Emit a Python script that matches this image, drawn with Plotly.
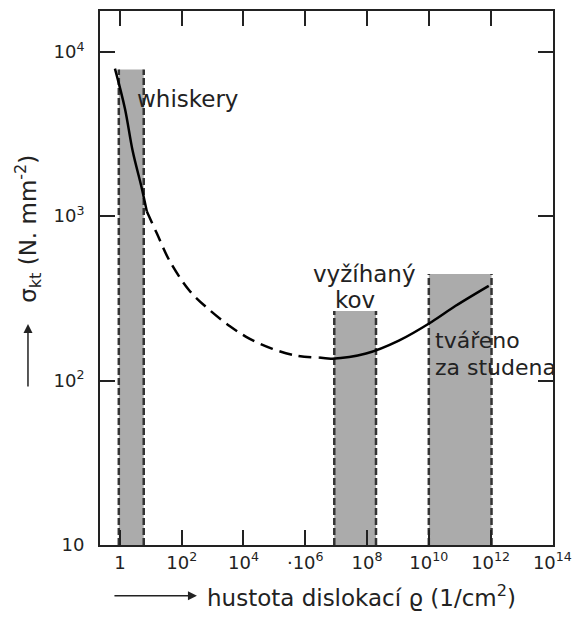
import plotly.graph_objects as go

# Curve: strength vs dislocation density
rho_solid1 = [0.69, 1.45, 2.6, 5.1, 7.4]
sig_solid1 = [7900, 4520, 2480, 1480, 1070]
rho_dash = [7.4, 15.5, 41, 182, 794, 3550, 15500, 87000, 5.1e5, 2.8e6]
sig_dash = [1070, 789, 533, 351, 269, 215, 180, 156, 142, 138]
rho_solid2 = [2.8e6, 7.4e6, 9.3e7, 1.07e9, 1.26e10, 7.4e10, 8.7e11]
sig_solid2 = [138, 136, 146, 175, 228, 285, 377]

# Shaded regions: [rho_low, rho_high, sigma_top]
regions = {
    "whiskery": [0.92, 5.9, 7800],
    "vyžíhaný kov": [8.7e6, 1.95e8, 265],
    "tvářeno za studena": [1.0e10, 1.07e12, 445],
}
sigma_bottom = 10

xtick_vals = [1, 1e2, 1e4, 1e6, 1e8, 1e10, 1e12, 1e14]
xtick_text = ["1", "10<sup>2</sup>", "10<sup>4</sup>", "·10<sup>6</sup>", "10<sup>8</sup>",
              "10<sup>10</sup>", "10<sup>12</sup>", "10<sup>14</sup>"]
ytick_vals = [10, 100, 1000, 10000]
ytick_text = ["10", "10<sup>2</sup>", "10<sup>3</sup>", "10<sup>4</sup>"]

FONT = "DejaVu Sans, sans-serif"
INK = "#222222"
fig = go.Figure()

shapes = []
for name, (x0, x1, top) in regions.items():
    shapes.append(dict(type="rect", xref="x", yref="y", x0=x0, x1=x1, y0=sigma_bottom, y1=top,
                       fillcolor="#ababab", line=dict(width=0), layer="below"))
    for xv in (x0, x1):
        fig.add_trace(go.Scatter(x=[xv, xv], y=[sigma_bottom, top], mode="lines",
                                 line=dict(color="#333333", width=2.5, dash="7px,3px"),
                                 showlegend=False, hoverinfo="skip"))

fig.add_trace(go.Scatter(x=rho_solid1, y=sig_solid1, mode="lines",
                         line=dict(color="black", width=2.5, shape="spline"), showlegend=False))
fig.add_trace(go.Scatter(x=rho_dash, y=sig_dash, mode="lines",
                         line=dict(color="black", width=2.5, dash="13px,7px", shape="spline"), showlegend=False))
fig.add_trace(go.Scatter(x=rho_solid2, y=sig_solid2, mode="lines",
                         line=dict(color="black", width=2.5, shape="spline"), showlegend=False))

def label(x, y, text, anchor="left", size=23):
    return dict(x=x, y=y, xref="paper", yref="paper", text=text, showarrow=False,
                xanchor=anchor, yanchor="middle", font=dict(size=size, family=FONT, color=INK))

annotations = [
    label(0.077, 0.835, "whiskery"),
    label(0.583, 0.508, "vyžíhaný", "center"),
    label(0.563, 0.459, "kov", "center"),
    label(0.736, 0.383, "tvářeno", size=22),
    label(0.736, 0.332, "za studena", size=22),
    # x axis title
    label(0.231, -0.095, "hustota dislokací ϱ (1/cm<sup>2</sup>)", size=23),
    dict(x=0.214, y=-0.095, xref="paper", yref="paper", text="", showarrow=True,
         ax=-84, ay=0, arrowhead=2, arrowsize=1.2, arrowwidth=1.5, arrowcolor=INK),
    # y axis title
    dict(x=-0.159, y=0.592, xref="paper", yref="paper", text="σ<sub>kt</sub> (N. mm<sup>-2</sup>)",
         showarrow=False, textangle=-90, xanchor="center", yanchor="middle",
         font=dict(size=23, family=FONT, color=INK)),
    dict(x=-0.159, y=0.414, xref="paper", yref="paper", text="", showarrow=True,
         ax=0, ay=64, arrowhead=2, arrowsize=1.2, arrowwidth=1.5, arrowcolor=INK),
]

axis_common = dict(showline=True, linecolor=INK, linewidth=2, mirror="allticks", ticks="inside",
                   ticklen=15, tickwidth=2, tickcolor=INK, showgrid=False, zeroline=False,
                   layer="above traces",
                   tickfont=dict(size=18, family=FONT, color=INK))

fig.update_layout(
    width=581, height=619,
    margin=dict(l=100, r=27, t=9, b=74),
    paper_bgcolor="white", plot_bgcolor="white",
    shapes=shapes, annotations=annotations,
    xaxis=dict(type="log", range=[-0.645, 14.02], tickmode="array", tickvals=xtick_vals,
               ticktext=xtick_text, **axis_common),
    yaxis=dict(type="log", range=[1, 4.248], tickmode="array", tickvals=ytick_vals,
               ticktext=ytick_text, ticklabelstandoff=10, **axis_common),
)

fig.write_html("out.html", config={"displayModeBar": False},
               post_script="document.body.style.margin='0px';")
